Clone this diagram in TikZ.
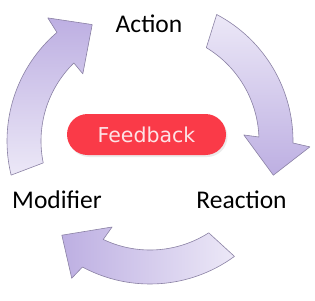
\documentclass[tikz,border=0pt]{standalone}
\usepackage{fontspec}
\setmainfont{Carlito}
\newfontfamily\pillfont{DejaVu Sans}
\definecolor{arrowdark}{HTML}{BDAFE2}
\definecolor{arrowlight}{HTML}{ECE8F7}
\definecolor{arrowedge}{HTML}{8C83A6}
\definecolor{pillred}{HTML}{FA3A48}
\definecolor{pilltext}{HTML}{FDE3E6}
\tikzset{
  cyclearrow/.style={draw=arrowedge, line width=0.6pt, line join=round},
  arrowshadow/.style={fill=black, opacity=0.12, draw=none},
  label/.style={font=\fontsize{25.5}{28}\selectfont, text=black, inner sep=0pt, anchor=base},
  pill/.style={fill=pillred, rounded corners=20.5pt, draw=none},
  pilllabel/.style={font=\pillfont\fontsize{20.5}{24}\selectfont, text=pilltext, inner sep=0pt, anchor=base}
}
\begin{document}
\begin{tikzpicture}[x=1pt,y=-1pt]
\useasboundingbox (0,0) rectangle (315,300);
\coordinate (C) at (150,141);
% shadows
\begin{scope}[shift={(1.5,2)}]
\fill[arrowshadow] ([shift={(166.2:143)}]C) arc[start angle=166.2, end angle=229.4, radius=143] -- ([shift={(230.3:160)}]C) -- ([shift={(243.6:130)}]C) -- ([shift={(225:95)}]C) -- ([shift={(225.7:109)}]C) arc[start angle=225.7, end angle=168.4, radius=109] -- cycle;
\fill[arrowshadow] ([shift={(297.8:143)}]C) arc[start angle=297.8, end angle=360.8, radius=143] -- ([shift={(362.1:160)}]C) -- ([shift={(375.5:128)}]C) -- ([shift={(356.3:94)}]C) -- ([shift={(357.9:109)}]C) arc[start angle=357.9, end angle=301.1, radius=109] -- cycle;
\fill[arrowshadow] ([shift={(53.8:143)}]C) arc[start angle=53.8, end angle=118.2, radius=143] -- ([shift={(119.7:158)}]C) -- ([shift={(133.1:129)}]C) -- ([shift={(113.8:94)}]C) -- ([shift={(115.4:109)}]C) arc[start angle=115.4, end angle=57.4, radius=109] -- cycle;
\end{scope}
% left arrow: Modifier -> Action
\draw[cyclearrow, top color=arrowdark, bottom color=arrowlight]
  ([shift={(166.2:143)}]C) arc[start angle=166.2, end angle=229.4, radius=143]
  -- ([shift={(230.3:160)}]C) -- ([shift={(243.6:130)}]C) -- ([shift={(225:95)}]C)
  -- ([shift={(225.7:109)}]C) arc[start angle=225.7, end angle=168.4, radius=109] -- cycle;
% right arrow: Action -> Reaction
\draw[cyclearrow, top color=arrowlight, bottom color=arrowdark]
  ([shift={(297.8:143)}]C) arc[start angle=297.8, end angle=360.8, radius=143]
  -- ([shift={(362.1:160)}]C) -- ([shift={(375.5:128)}]C) -- ([shift={(356.3:94)}]C)
  -- ([shift={(357.9:109)}]C) arc[start angle=357.9, end angle=301.1, radius=109] -- cycle;
% bottom arrow: Reaction -> Modifier
\draw[cyclearrow, left color=arrowdark, right color=arrowlight]
  ([shift={(53.8:143)}]C) arc[start angle=53.8, end angle=118.2, radius=143]
  -- ([shift={(119.7:158)}]C) -- ([shift={(133.1:129)}]C) -- ([shift={(113.8:94)}]C)
  -- ([shift={(115.4:109)}]C) arc[start angle=115.4, end angle=57.4, radius=109] -- cycle;
% feedback pill
\fill[black, opacity=0.08, rounded corners=20.5pt] (68.5,116) rectangle (227.5,157);
\fill[pill] (67,114) rectangle (226,155);
\node[pilllabel] (feedback) at (146.5,142.5) {Feedback};
% labels
\node[label] (action) at (149,32) {Action};
\node[label] (reaction) at (241.5,208) {Reaction};
\node[label] (modifier) at (57,208) {Modifier};
\end{tikzpicture}
\end{document}
